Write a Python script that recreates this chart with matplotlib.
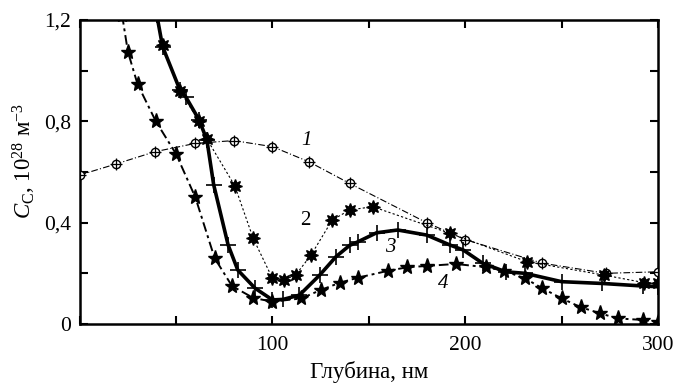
import matplotlib
matplotlib.use('Agg')
import matplotlib.pyplot as plt
from matplotlib.ticker import MultipleLocator

plt.rcParams['font.family'] = ['Liberation Serif', 'DejaVu Serif']
plt.rcParams['mathtext.fontset'] = 'custom'
plt.rcParams['mathtext.rm'] = 'Liberation Serif'
plt.rcParams['mathtext.it'] = 'Liberation Serif:italic'

# curve 1 (circles)
x1 = [0, 19, 39, 60, 80, 100, 119, 140, 180, 200, 240, 273, 300]
y1 = [0.588, 0.632, 0.68, 0.713, 0.724, 0.70, 0.64, 0.555, 0.40, 0.333, 0.24, 0.20, 0.206]

# curve 2 (asterisks)
x2 = [40, 43, 52, 62, 66, 80.5, 90, 100, 106, 112, 120, 131, 140, 152, 192, 232, 272, 293, 300]
y2 = [1.22, 1.10, 0.92, 0.80, 0.73, 0.545, 0.338, 0.18, 0.174, 0.193, 0.272, 0.41, 0.45, 0.463, 0.358, 0.246, 0.193, 0.163, 0.16]

# curve 3 (thick, crosses)
x3 = [40, 43, 52, 55, 62, 66, 69.5, 77, 82, 91, 100, 105.5, 114, 124.5, 133, 140, 144.5, 154, 165, 180,
      192, 199, 209, 221, 231, 250, 271, 292, 300]
y3 = [1.22, 1.095, 0.924, 0.897, 0.805, 0.726, 0.55, 0.312, 0.213, 0.141, 0.095, 0.097, 0.114, 0.193, 0.266,
      0.31, 0.325, 0.36, 0.371, 0.351, 0.312, 0.292, 0.24, 0.206, 0.20, 0.167, 0.16, 0.15, 0.147]

# curve 4 (stars)
x4 = [22, 25, 30, 39.5, 50, 60, 70, 79, 90, 100, 115, 125, 135, 144.5, 160, 170, 180, 195, 211, 220,
      231, 240, 250, 260, 270, 279, 292, 300]
y4 = [1.22, 1.075, 0.947, 0.80, 0.671, 0.50, 0.26, 0.15, 0.103, 0.088, 0.101, 0.134, 0.163, 0.183, 0.21,
      0.224, 0.229, 0.237, 0.224, 0.21, 0.18, 0.141, 0.101, 0.066, 0.042, 0.022, 0.016, 0.009]

curve_labels = ['1', '2', '3', '4']
label_x = [117.5, 117, 161, 188.5]
label_y = [0.726, 0.41, 0.30, 0.16]

fig = plt.figure(figsize=(6.73, 3.84), dpi=100)
ax = fig.add_axes([0.1184, 0.1563, 0.8593, 0.7916])

ax.plot(x1, y1, color='black', lw=0.8, ls=(0, (6, 2, 1, 2)), zorder=2)
ax.plot(x1, y1, ls='none', marker='o', ms=6, mfc='white', mec='black', mew=1.0, zorder=3)
ax.plot(x1, y1, ls='none', marker='+', ms=8, mec='black', mew=0.9, zorder=4)

ax.plot(x2, y2, color='black', lw=0.8, ls=(0, (2, 2)), marker=(8, 1, 0), ms=10,
        mfc='black', mec='black', zorder=3)

ax.plot(x3, y3, color='black', lw=2.6, ls='-', marker='+', ms=11, mew=1.2, zorder=4)

ax.plot(x4, y4, color='black', lw=1.4, ls=(0, (5, 2, 1.5, 2)), marker='*', ms=11,
        mfc='black', mec='black', zorder=3)

for t, lx, ly in zip(curve_labels, label_x, label_y):
    ax.text(lx, ly, t, fontsize=15, style='normal' if t == '2' else 'italic',
            ha='center', va='center', zorder=5)

ax.set_xlim(0, 300)
ax.set_ylim(0, 1.2)
ax.xaxis.set_minor_locator(MultipleLocator(50))
ax.yaxis.set_minor_locator(MultipleLocator(0.2))
ax.set_xticks([100, 200, 300])
ax.set_xticklabels(['100', '200', '300'])
ax.set_yticks([0, 0.4, 0.8, 1.2])
ax.set_yticklabels(['0', '0,4', '0,8', '1,2'])
ax.tick_params(which='both', direction='in', top=True, right=True, width=1.5, labelsize=15.5)
ax.tick_params(which='both', length=6)
ax.tick_params(axis='y', pad=6)
ax.tick_params(axis='x', pad=9)
for s in ax.spines.values():
    s.set_linewidth(1.8)

ax.set_xlabel('Глубина, нм', fontsize=16.5)
ax.xaxis.set_label_coords(0.5, -0.122)
ax.set_ylabel(r'$C_{\mathrm{C}}$, 10$^{28}$ м$^{-3}$', fontsize=16.5)
ax.yaxis.set_label_coords(-0.072, 0.535)

fig.savefig('out.png', dpi=100)
